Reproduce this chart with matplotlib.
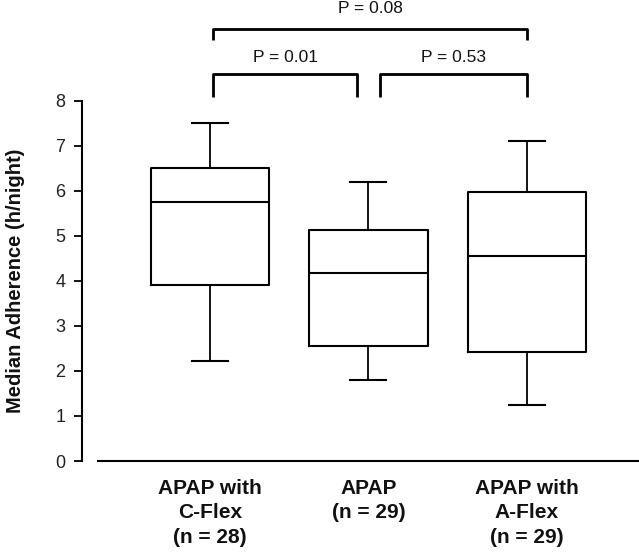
import matplotlib
matplotlib.use("Agg")
import matplotlib.pyplot as plt

plt.rcParams["font.family"] = ["Liberation Sans", "DejaVu Sans"]

# 그룹 라벨과 박스 통계값
groups = ["APAP with\nC-Flex\n(n = 28)", "APAP\n(n = 29)", "APAP with\nA-Flex\n(n = 29)"]
whisker_lo = [2.22, 1.79, 1.24]
q1 = [3.90, 2.55, 2.43]
medians = [5.76, 4.17, 4.56]
q3 = [6.52, 5.14, 5.98]
whisker_hi = [7.51, 6.21, 7.10]

# 비교 쌍과 P 값
pairs = [(1, 2), (2, 3), (1, 3)]
pvals = ["P = 0.01", "P = 0.53", "P = 0.08"]

positions = [1, 2, 3]
stats = []
for i in range(len(groups)):
    stats.append({"whislo": whisker_lo[i], "q1": q1[i], "med": medians[i],
                  "q3": q3[i], "whishi": whisker_hi[i], "fliers": []})

fig = plt.figure(figsize=(6.39, 5.53), dpi=100)
ax = fig.add_axes([82 / 639, 92 / 553, 557 / 639, 461 / 553])

lw = 1.5
ax.bxp(stats, positions=positions, widths=0.745, capwidths=0.227,
       showfliers=False,
       boxprops=dict(color="black", linewidth=lw),
       medianprops=dict(color="black", linewidth=lw),
       whiskerprops=dict(color="black", linewidth=1.3),
       capprops=dict(color="black", linewidth=lw))

ax.set_xlim(0.1924, 3.707)
ax.set_ylim(0, 10.244)

# 유의성 괄호
gap = 0.07
levels = {(1, 2): (8.6, 8.09, 8.96), (2, 3): (8.6, 8.09, 8.96), (1, 3): (9.6, 9.356, 10.05)}
for (a, b), p in zip(pairs, pvals):
    top, bot, ty = levels[(a, b)]
    xa = a + 0.02 if a == 1 else a + gap
    xb = b - gap if b == 2 else b
    ax.plot([xa, xa, xb, xb], [bot, top, top, bot], color="black", linewidth=2.0,
            solid_joinstyle="round", solid_capstyle="butt", clip_on=False)
    ax.text((xa + xb) / 2, ty, p, ha="center", va="center", fontsize=12.5, color="#111111")

ax.set_xticks(positions)
ax.set_xticklabels(groups, fontsize=15, fontweight="bold", color="#111111",
                   linespacing=1.35)
ax.set_yticks(range(0, 9))
ax.tick_params(axis="y", labelsize=13, length=6, width=1.3, direction="out", pad=6,
               labelcolor="#222222")
ax.tick_params(axis="x", length=0, pad=13)

ax.spines["top"].set_visible(False)
ax.spines["right"].set_visible(False)
ax.spines["left"].set_bounds(0, 8)
ax.spines["left"].set_linewidth(1.5)
ax.spines["bottom"].set_bounds(0.2934, 3.707)
ax.spines["bottom"].set_linewidth(1.5)

ax.set_ylabel("Median Adherence (h/night)", fontsize=14.5, fontweight="bold",
              color="#111111", va="center")
ax.yaxis.set_label_coords(-0.12, 0.39)

fig.savefig("out.png", dpi=100)
